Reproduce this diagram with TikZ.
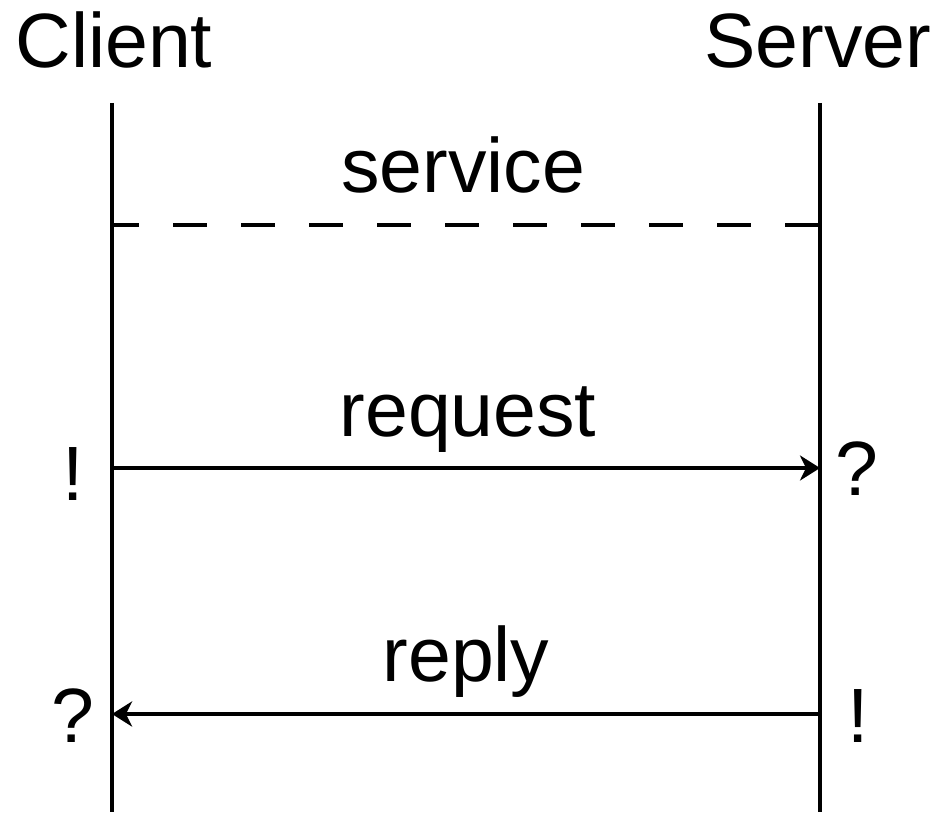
\documentclass[tikz,border=0pt]{standalone}
\usepackage{fontspec}
\setmainfont{Liberation Sans}
\usetikzlibrary{arrows.meta,positioning}

\begin{document}
\begin{tikzpicture}[x=0.5pt, y=-0.5pt,
        lifeline/.style = {draw, line width=2.4pt},
        msg/.style = {draw, line width=2.4pt, -{Stealth[length=10pt, width=12.5pt, inset=3pt]}},
        txt/.style = {anchor=base, inner sep=0pt, font=\fontsize{38.5}{46}\selectfont}]
    \useasboundingbox (0,0) rectangle (945,812);

    % lifelines
    \node [txt] (C) at (114,68) {Client};
    \node [txt] (S) at (818,68) {Server};
    \coordinate (Ct) at (112,103);
    \coordinate (Cb) at (112,812);
    \coordinate (St) at (820,103);
    \coordinate (Sb) at (820,812);
    \draw [lifeline] (Ct) -- (Cb);
    \draw [lifeline] (St) -- (Sb);

    % service
    \coordinate (Csv) at (112,225);
    \coordinate (Ssv) at (820,225);
    \draw [lifeline, dash pattern=on 17pt off 17pt, dash phase=3.5pt] (Csv) -- (Ssv);
    \node [txt] (sv) at (463,193) {service};

    % request
    \coordinate (Crq) at (112,468);
    \coordinate (Srq) at (820,468);
    \draw [msg] (Crq) -- (Srq);
    \node [txt] (rq) at (468,436) {request};
    \node [txt] (Crqm) at (73,500) {!};
    \node [txt] (Srqm) at (857,495) {?};

    % reply
    \coordinate (Crp) at (112,714);
    \coordinate (Srp) at (820,714);
    \draw [msg] (Srp) -- (Crp);
    \node [txt] (rp) at (466,681) {reply};
    \node [txt] (Crpm) at (73,742) {?};
    \node [txt] (Srpm) at (858,742) {!};
\end{tikzpicture}
\end{document}
